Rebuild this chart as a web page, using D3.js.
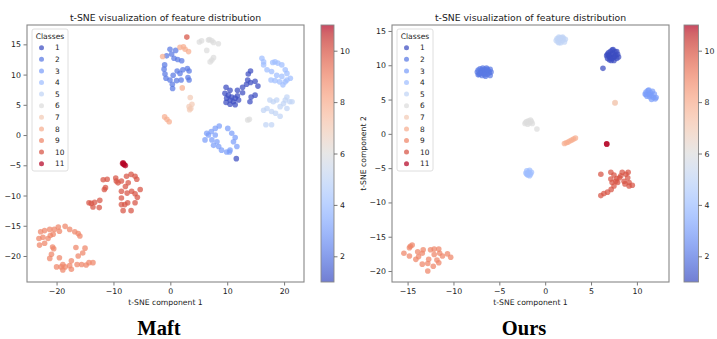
<!DOCTYPE html>
<html>
<head>
<meta charset="utf-8">
<script src="https://cdn.jsdelivr.net/npm/d3@7"></script>
<style>
  html, body { margin: 0; padding: 0; background: #fff; }
  svg { display: block; }
  text { font-family: "DejaVu Sans", sans-serif; fill: #222; }
</style>
</head>
<body>
<svg id="chart" width="717" height="339"></svg>
<script>
// ---------- data ----------
const classes = [1, 2, 3, 4, 5, 6, 7, 8, 9, 10, 11];
const colorTicks = [2, 4, 6, 8, 10];

// Maft embedding, one array of [x, y] per class
const maft1 = [[9.8,7.9],[10.5,7.4],[9.6,6.9],[10.2,6.6],[10.8,6.3],[9.9,6.1],[10.5,5.8],[11.1,5.5],[11.4,6.1],[11.8,6.5],[12.0,5.8],[11.4,5.0],[10.5,5.1],[9.8,5.4],[12.7,7.9],[13.4,8.4],[14.1,8.7],[14.9,8.9],[15.4,8.1],[14.2,6.3],[14.0,5.5],[14.9,6.6],[13.7,10.1],[14.1,10.6],[13.6,9.1],[12.7,7.0],[11.8,7.4],[11.6,-3.9]];
const maft2 = [[-0.06,14.2],[0.94,14.0],[0.23,13.4],[-0.65,13.1],[0.65,12.7],[1.3,12.5],[2.0,12.3],[-1.0,11.6],[-1.1,10.9],[-0.94,10.1],[-0.76,9.4],[-0.06,9.1],[0.35,8.4],[0.4,7.7],[1.1,9.0],[1.9,9.1],[1.7,10.2],[1.2,10.6],[2.2,10.8],[3.0,11.0],[3.3,10.6],[3.3,9.1],[3.1,9.5],[0.5,9.9]];
const maft3 = [[6.1,-0.8],[6.7,0.0],[7.2,0.6],[7.9,1.1],[8.6,1.5],[10.1,1.1],[10.8,0.3],[11.4,-0.4],[11.1,-1.1],[11.7,-1.9],[10.5,-2.5],[9.9,-2.8],[9.0,-2.5],[8.5,-1.9],[7.6,-1.7],[8.2,-1.1],[7.3,-0.8],[7.9,0.0],[10.4,-2.8],[6.4,0.3]];
const maft4 = [[16.1,12.7],[16.4,12.1],[17.0,10.8],[16.4,11.6],[18.0,12.0],[18.4,12.1],[18.9,11.9],[19.6,11.6],[20.2,10.8],[20.5,10.2],[21.1,9.4],[20.2,8.8],[19.8,8.3],[19.2,8.8],[18.4,9.0],[17.8,10.5],[18.7,9.9],[19.6,9.7],[20.5,9.1],[17.7,9.1]];
const maft5 = [[16.4,4.1],[17.0,4.4],[17.5,5.8],[18.1,5.5],[18.7,5.8],[19.3,4.7],[20.2,5.8],[21.0,5.5],[21.4,5.5],[20.5,4.4],[17.8,3.9],[18.5,3.6],[19.3,3.1],[16.8,1.7],[17.8,1.7],[19.9,5.2],[20.5,6.3]];
const maft6 = [[5.1,15.4],[5.5,15.6],[6.7,15.7],[6.9,15.8],[7.3,15.6],[7.6,15.3],[8.45,15.1],[6.4,14.0],[7.3,12.4],[7.0,12.1],[7.6,12.8],[13.9,2.6],[13.6,2.5]];
const maft7 = [[3.5,6.2],[3.8,5.1],[3.3,4.7],[3.6,4.4],[3.4,4.2]];
const maft8 = [[-1.35,13.0],[1.7,14.5],[2.3,14.6],[2.6,14.2],[3.2,13.8],[2.1,7.8],[-1.0,3.0],[-0.6,2.6],[-0.2,2.2]];
const maft9 = [[-22.8,-16.0],[-22.1,-15.8],[-21.2,-15.6],[-20.4,-15.6],[-19.7,-15.2],[-18.5,-15.1],[-17.7,-15.6],[-16.8,-16.0],[-16.2,-16.3],[-15.9,-16.7],[-23.1,-17.1],[-22.4,-16.9],[-21.5,-17.1],[-20.6,-16.4],[-19.5,-15.9],[-21.1,-16.6],[-23.0,-18.2],[-22.1,-17.9],[-20.7,-18.5],[-20.5,-18.8],[-19.5,-20.3],[-20.9,-19.7],[-21.2,-20.4],[-20.0,-21.8],[-19.2,-21.8],[-18.9,-21.4],[-18.5,-21.8],[-17.7,-21.6],[-17.4,-20.8],[-17.4,-22.2],[-16.4,-21.4],[-15.6,-21.4],[-14.8,-21.5],[-14.3,-21.1],[-13.6,-21.1],[-16.6,-18.6],[-16.2,-20.0],[-15.4,-19.5],[-15.0,-18.7],[-18.9,-22.3]];
const maft10 = [[-11.8,-7.4],[-11.1,-7.3],[-11.4,-8.7],[-11.6,-9.0],[-12.4,-10.8],[-13.3,-11.1],[-14.3,-11.2],[-13.9,-11.3],[-13.6,-11.9],[-12.5,-12.0],[-9.6,-7.1],[-9.5,-7.6],[-9.2,-7.9],[-8.6,-7.6],[-7.7,-6.8],[-6.9,-6.5],[-6.2,-6.8],[-5.9,-7.3],[-7.4,-7.9],[-7.9,-8.5],[-8.6,-9.3],[-7.6,-9.6],[-6.8,-9.3],[-5.3,-9.0],[-6.2,-9.7],[-5.8,-10.3],[-8.6,-10.4],[-7.5,-11.2],[-8.6,-11.5],[-8.0,-11.5],[-6.2,-11.2],[-8.3,-12.5],[-6.9,-12.5],[2.9,16.2]];
const maft11 = [[-8.3,-4.6],[-8.1,-4.9],[-7.9,-5.05],[-8.4,-4.7],[-8.2,-4.8]];

// Ours embedding, one array of [x, y] per class
const ours1 = [[6.7,11.4],[6.8,11.0],[6.9,11.8],[7.0,11.3],[7.0,10.8],[7.1,12.0],[7.2,11.5],[7.3,11.0],[7.3,12.2],[7.4,11.7],[7.5,11.2],[7.5,10.7],[7.6,12.0],[7.7,11.5],[7.8,11.0],[7.9,11.6],[7.1,11.1],[7.6,11.3],[6.9,11.5],[7.8,12.0],[7.2,10.7],[8.0,11.2],[7.4,12.3],[6.8,11.6],[6.3,9.55]];
const ours2 = [[-7.4,9.0],[-7.3,9.3],[-7.2,8.7],[-7.1,9.5],[-7.0,9.0],[-6.9,8.5],[-6.8,9.6],[-6.8,9.2],[-6.7,8.8],[-6.6,9.4],[-6.5,8.4],[-6.5,9.0],[-6.4,9.6],[-6.3,8.7],[-6.2,9.2],[-6.1,8.9],[-6.0,9.4],[-6.0,8.5],[-5.9,9.0],[-7.3,8.6],[-6.9,9.3],[-6.3,9.4],[-6.6,8.6],[-7.1,8.8]];
const ours3 = [[10.9,5.8],[11.0,6.1],[11.1,5.5],[11.2,6.3],[11.3,5.8],[11.4,5.4],[11.5,6.0],[11.6,5.6],[11.7,6.2],[11.8,5.3],[11.9,5.8],[12.0,5.1],[12.1,5.3],[11.3,6.4],[11.0,5.7],[11.6,5.0],[11.4,5.7]];
const ours4 = [[-2.1,-5.7],[-2.0,-5.4],[-1.9,-6.0],[-1.8,-5.6],[-1.7,-5.3],[-1.6,-5.9],[-1.5,-5.6],[-1.9,-5.8],[-1.7,-6.1],[-2.0,-5.9]];
const ours5 = [[1.2,13.6],[1.3,13.9],[1.4,13.4],[1.5,14.1],[1.6,13.7],[1.7,13.3],[1.8,14.0],[1.9,13.6],[2.0,13.9],[2.1,13.4],[2.2,13.8],[1.5,13.3],[1.9,14.1],[1.4,13.8],[1.6,14.0]];
const ours6 = [[-2.2,1.5],[-2.0,1.8],[-1.9,1.4],[-1.8,1.9],[-1.7,1.6],[-1.5,1.8],[-1.4,1.5],[-2.1,1.7],[-1.6,2.0],[-0.9,0.7]];
const ours7 = [[7.63,4.55],[7.6,4.5]];
const ours8 = [[2.1,-1.4],[2.3,-1.3],[2.5,-1.2],[2.7,-1.05],[2.9,-0.9],[3.1,-0.75],[3.3,-0.6]];
const ours9 = [[-15.4,-17.4],[-14.8,-17.8],[-14.7,-16.4],[-14.5,-16.2],[-14.8,-16.6],[-14.1,-18.3],[-13.8,-17.9],[-13.4,-17.4],[-13.3,-16.9],[-13.4,-19.0],[-12.8,-18.9],[-12.7,-18.3],[-12.5,-16.9],[-12.1,-16.8],[-12.1,-17.6],[-11.8,-18.4],[-12.2,-19.3],[-12.8,-20.0],[-11.6,-16.8],[-11.5,-17.4],[-11.2,-17.8],[-11.6,-18.8],[-10.65,-17.5],[-10.3,-18.0],[-13.9,-17.2]];
const ours10 = [[6.07,-5.9],[7.16,-5.6],[7.5,-6.0],[7.16,-6.6],[7.3,-7.1],[7.7,-6.9],[8.25,-6.1],[8.4,-5.6],[8.8,-5.9],[9.05,-5.6],[9.0,-6.4],[8.6,-6.9],[9.15,-7.1],[9.5,-7.5],[9.15,-7.6],[7.9,-7.1],[7.5,-7.6],[7.2,-8.1],[6.8,-8.5],[6.4,-8.7],[6.07,-9.0],[8.1,-6.4],[7.8,-6.5],[8.7,-7.3]];
const ours11 = [[6.72,-1.5],[6.7,-1.45]];

const maftSeries = [maft1, maft2, maft3, maft4, maft5, maft6, maft7, maft8, maft9, maft10, maft11];
const oursSeries = [ours1, ours2, ours3, ours4, ours5, ours6, ours7, ours8, ours9, ours10, ours11];

const maftXTicks = [-20, -10, 0, 10, 20];
const maftYTicks = [-20, -15, -10, -5, 0, 5, 10, 15];
const oursXTicks = [-15, -10, -5, 0, 5, 10];
const oursYTicks = [-20, -15, -10, -5, 0, 5, 10, 15];

// ---------- coolwarm colormap ----------
const coolwarmStops = [
  [59,76,192],[68,90,204],[77,104,215],[87,117,225],[98,130,234],[108,142,241],[119,154,247],[130,165,251],
  [141,176,254],[152,185,255],[163,194,255],[174,201,253],[184,208,249],[194,213,244],[204,217,238],[213,219,230],
  [221,221,221],[229,216,209],[236,211,197],[241,204,184],[245,196,173],[247,187,160],[247,177,148],[247,166,135],
  [244,154,123],[241,141,111],[236,127,99],[229,112,88],[222,96,77],[213,80,66],[203,62,56],[192,40,47],[180,4,38]
].map(c => d3.rgb(c[0], c[1], c[2]).formatHex());
const coolwarm = d3.interpolateRgbBasis(coolwarmStops);
const colorNorm = d3.scaleLinear().domain([1, 11]).range([0, 1]);
const classColor = c => coolwarm(colorNorm(c));
const ALPHA = 0.72;

const svg = d3.select("#chart");
const defs = svg.append("defs");

function drawPanel(cfg) {
  const { left, right, top, bottom } = cfg.frame;
  const x = d3.scaleLinear().domain(cfg.xDomain).range([left, right]);
  const y = d3.scaleLinear().domain(cfg.yDomain).range([bottom, top]);
  const g = svg.append("g");

  // points, class by class
  cfg.series.forEach((pts, i) => {
    g.append("g").selectAll("circle").data(pts).join("circle")
      .attr("cx", d => x(d[0]))
      .attr("cy", d => y(d[1]))
      .attr("r", 2.8)
      .attr("fill", classColor(classes[i]))
      .attr("fill-opacity", ALPHA);
  });

  // axes
  const xAxis = d3.axisBottom(x).tickValues(cfg.xTicks).tickSize(3.5).tickPadding(2.5)
    .tickFormat(d => d < 0 ? "\u2212" + Math.abs(d) : d);
  const yAxis = d3.axisLeft(y).tickValues(cfg.yTicks).tickSize(3.5).tickPadding(2.5)
    .tickFormat(d => d < 0 ? "\u2212" + Math.abs(d) : d);
  const gx = g.append("g").attr("transform", `translate(0,${bottom})`).call(xAxis);
  const gy = g.append("g").attr("transform", `translate(${left},0)`).call(yAxis);
  [gx, gy].forEach(a => {
    a.select(".domain").remove();
    a.selectAll(".tick line").attr("stroke", "#555").attr("stroke-width", 0.8);
    a.selectAll(".tick text").attr("font-size", 7.8).attr("fill", "#222")
      .attr("font-family", "DejaVu Sans");
  });

  // frame
  g.append("rect").attr("x", left).attr("y", top)
    .attr("width", right - left).attr("height", bottom - top)
    .attr("fill", "none").attr("stroke", "#888").attr("stroke-width", 1.1);

  // title and axis labels
  g.append("text").attr("x", (left + right) / 2).attr("y", 20.5)
    .attr("text-anchor", "middle").attr("font-size", 9.3)
    .text("t-SNE visualization of feature distribution");
  g.append("text").attr("x", (left + right) / 2).attr("y", 305)
    .attr("text-anchor", "middle").attr("font-size", 7.7)
    .text("t-SNE component 1");
  if (cfg.yLabelX) {
    g.append("text")
      .attr("transform", `translate(${cfg.yLabelX},${(top + bottom) / 2}) rotate(-90)`)
      .attr("text-anchor", "middle").attr("font-size", 7.7)
      .text("t-SNE component 2");
  }

  // legend
  const lg = g.append("g");
  const L = cfg.legend;
  lg.append("rect").attr("x", L.x).attr("y", 29).attr("width", 36).attr("height", 142)
    .attr("rx", 2).attr("fill", "#fff").attr("fill-opacity", 0.85)
    .attr("stroke", "#d6d6d6").attr("stroke-width", 0.8);
  lg.append("text").attr("x", L.x + 18).attr("y", 38.5)
    .attr("text-anchor", "middle").attr("font-size", 7.6).text("Classes");
  const ly = d3.scalePoint().domain(classes).range([47.7, 163.7]);
  lg.selectAll("circle.key").data(classes).join("circle")
    .attr("class", "key")
    .attr("cx", L.x + 9.5).attr("cy", d => ly(d)).attr("r", 2.5)
    .attr("fill", d => classColor(d)).attr("fill-opacity", ALPHA);
  lg.selectAll("text.key").data(classes).join("text")
    .attr("class", "key")
    .attr("x", L.x + 23).attr("y", d => ly(d) + 2.7)
    .attr("font-size", 7.4).text(d => d);

  // colorbar
  const cb = cfg.colorbar;
  const gradId = "cw" + cfg.id;
  const grad = defs.append("linearGradient").attr("id", gradId)
    .attr("x1", 0).attr("y1", 1).attr("x2", 0).attr("y2", 0);
  coolwarmStops.forEach((c, i) => {
    grad.append("stop").attr("offset", i / (coolwarmStops.length - 1))
      .attr("stop-color", c).attr("stop-opacity", ALPHA);
  });
  const cy = d3.scaleLinear().domain([1, 11]).range([bottom, top]);
  g.append("rect").attr("x", cb.x).attr("y", top).attr("width", cb.w).attr("height", bottom - top)
    .attr("fill", `url(#${gradId})`).attr("stroke", "#888").attr("stroke-width", 0.9);
  const cAxis = d3.axisRight(cy).tickValues(colorTicks).tickSize(3.5).tickPadding(2.5);
  const gc = g.append("g").attr("transform", `translate(${cb.x + cb.w},0)`).call(cAxis);
  gc.select(".domain").remove();
  gc.selectAll(".tick line").attr("stroke", "#555").attr("stroke-width", 0.8);
  gc.selectAll(".tick text").attr("font-size", 7.8).attr("fill", "#222")
    .attr("font-family", "DejaVu Sans");

  // method name beneath the panel
  svg.append("text").attr("x", cfg.nameX).attr("y", 335)
    .attr("text-anchor", "middle")
    .style("font-family", "'Liberation Serif', 'Times New Roman', serif")
    .style("font-weight", "bold").style("font-size", "20.5px").style("fill", "#000")
    .text(cfg.name);
}

drawPanel({
  id: "maft", name: "Maft", nameX: 159,
  series: maftSeries,
  frame: { left: 27, right: 304, top: 25, bottom: 282 },
  xDomain: [-25.2, 23.5], yDomain: [-24.3, 18.2],
  xTicks: maftXTicks, yTicks: maftYTicks,
  legend: { x: 32 },
  colorbar: { x: 321, w: 13 }
});

drawPanel({
  id: "ours", name: "Ours", nameX: 524,
  series: oursSeries,
  frame: { left: 392, right: 669, top: 25, bottom: 282 },
  xDomain: [-16.7, 13.5], yDomain: [-21.6, 15.87],
  xTicks: oursXTicks, yTicks: oursYTicks,
  yLabelX: 365.5,
  legend: { x: 397 },
  colorbar: { x: 684, w: 14.5 }
});
</script>
</body>
</html>
